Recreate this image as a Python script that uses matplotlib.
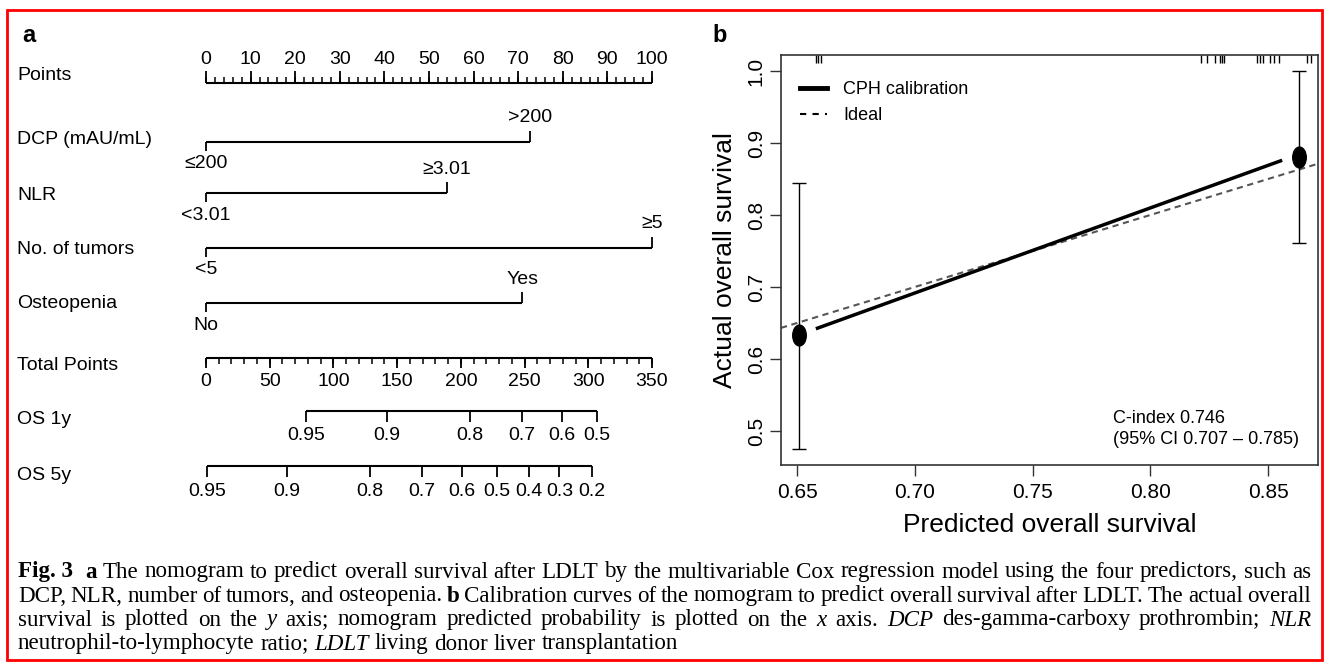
import matplotlib
matplotlib.use("Agg")
import matplotlib.pyplot as plt
import numpy as np
from matplotlib.path import Path
from matplotlib.transforms import Affine2D
from matplotlib.patches import Rectangle
from matplotlib.lines import Line2D

W, H = 1326, 667
DPI = 100
SANS = ["Liberation Sans", "DejaVu Sans"]
SERIF = ["Liberation Serif", "DejaVu Serif"]
plt.rcParams["font.family"] = SANS

# nomogram values (points scale 0-100, total points 0-350)
point_ticks = np.arange(0, 101, 10)
predictors = ["DCP (mAU/mL)", "NLR", "No. of tumors", "Osteopenia"]
pred_low = ["≤200", "<3.01", "<5", "No"]
pred_high = [">200", "≥3.01", "≥5", "Yes"]
pred_points = [72.7, 54.0, 100.0, 70.9]
total_ticks = np.arange(0, 351, 50)
os1_labels = ["0.95", "0.9", "0.8", "0.7", "0.6", "0.5"]
os1_total = [78.5, 142, 207, 248, 279, 307]
os5_labels = ["0.95", "0.9", "0.8", "0.7", "0.6", "0.5", "0.4", "0.3", "0.2"]
os5_total = [1, 63.7, 128.5, 169.7, 200.6, 228.6, 253.7, 277.3, 302.8]

# calibration values
cal_pred = [0.651, 0.863]
cal_obs = [0.633, 0.880]
cal_lo = [0.475, 0.761]
cal_hi = [0.845, 1.000]
cph_x = [0.658, 0.856]
cph_y = [0.642, 0.876]
rug_x = [0.6581, 0.6589, 0.6602, 0.8215, 0.8241, 0.8275, 0.8296, 0.8305, 0.8313,
         0.8453, 0.8466, 0.8479, 0.8508, 0.8525, 0.8547, 0.8665, 0.8682]
c_index_text = "C-index 0.746\n(95% CI 0.707 \u2013 0.785)"

caption = [
    [("Fig. 3", "bold", "normal"), ("a", "bold", "normal"),
     "The nomogram to predict overall survival after LDLT by the multivariable Cox regression model using the four predictors, such as"],
    ["DCP, NLR, number of tumors, and osteopenia.", ("b", "bold", "normal"),
     "Calibration curves of the nomogram to predict overall survival after LDLT. The actual overall"],
    ["survival is plotted on the", ("y", "normal", "italic"),
     "axis; nomogram predicted probability is plotted on the", ("x", "normal", "italic"),
     "axis.", ("DCP", "normal", "italic"), "des-gamma-carboxy prothrombin;", ("NLR", "normal", "italic")],
    ["neutrophil-to-lymphocyte ratio;", ("LDLT", "normal", "italic"), "living donor liver transplantation"],
]

fig = plt.figure(figsize=(W / DPI, H / DPI), dpi=DPI)

# ---------------- panel a: nomogram ----------------
px0, px_per_pt = 206, 4.46
ax = fig.add_axes([0, 0, 680 / W, 1])
ax.set_xlim(-px0 / px_per_pt, (680 - px0) / px_per_pt)
ax.set_ylim(H, 0)
ax.axis("off")
lab_tr = ax.get_yaxis_transform()
lw = 1.5
fs = 14

row_y = [83, 142, 193, 248, 303, 358, 411, 466]
label_y = [76, 140, 195, 250, 303, 365, 420, 475]
row_names = ["Points"] + predictors + ["Total Points", "OS 1y", "OS 5y"]
for name, ly in zip(row_names, label_y):
    ax.text(17 / 680, ly, name, transform=lab_tr, fontsize=fs, va="center", ha="left")

# points axis
y = row_y[0]
ax.plot([0, 100], [y, y], color="k", lw=lw, solid_capstyle="butt")
minor = np.arange(0, 101, 2)
ax.vlines(minor, y - 6, y, color="k", lw=1.1)
ax.vlines(point_ticks, y - 12, y, color="k", lw=1.3)
for v in point_ticks:
    ax.text(v, y - 23, str(v), fontsize=fs, ha="center", va="center")

# predictors
for i in range(len(predictors)):
    y = row_y[i + 1]
    p = pred_points[i]
    ax.plot([0, p], [y, y], color="k", lw=lw, solid_capstyle="butt")
    ax.vlines(0, y, y + 9, color="k", lw=1.3)
    ax.vlines(p, y - 11, y, color="k", lw=1.3)
    ax.text(0, y + 22, pred_low[i], fontsize=fs, ha="center", va="center")
    ax.text(p, y - 24, pred_high[i], fontsize=fs, ha="center", va="center")

# total points
scale = 100 / 350
y = row_y[5]
ax.plot([0, 350 * scale], [y, y], color="k", lw=lw, solid_capstyle="butt")
ax.vlines(np.arange(0, 351, 10) * scale, y, y + 6, color="k", lw=1.1)
ax.vlines(total_ticks * scale, y, y + 10, color="k", lw=1.3)
for v in total_ticks:
    ax.text(v * scale, y + 24, str(v), fontsize=fs, ha="center", va="center")

# survival axes
for y, tot, labs in [(row_y[6], os1_total, os1_labels), (row_y[7], os5_total, os5_labels)]:
    xs = np.array(tot) * scale
    ax.plot([xs[0], xs[-1]], [y, y], color="k", lw=lw, solid_capstyle="butt")
    ax.vlines(xs, y, y + 11, color="k", lw=1.3)
    for xv, lab in zip(xs, labs):
        ax.text(xv, y + 25, lab, fontsize=fs, ha="center", va="center")

# ---------------- panel b: calibration ----------------
left, right, top, bottom = 781, 1318, 55, 465
bx = fig.add_axes([left / W, (H - bottom) / H, (right - left) / W, (bottom - top) / H])
bx.set_xlim(0.6432, 0.8712)
bx.set_ylim(0.4528, 1.0222)

bx.axline((0.65, 0.65), (0.85, 0.85), color="#555555", lw=1.5, ls=(0, (3, 2.2)))
bx.plot(cph_x, cph_y, color="k", lw=2.5, solid_capstyle="butt")
bx.errorbar(cal_pred, cal_obs, yerr=[np.subtract(cal_obs, cal_lo), np.subtract(cal_hi, cal_obs)],
            fmt="none", ecolor="k", elinewidth=1.0, capsize=5, capthick=1.0)
ell = Path.unit_circle().transformed(Affine2D().scale(0.65, 1.0))
bx.plot(cal_pred, cal_obs, ls="none", marker=ell, ms=15, color="k")
bx.vlines(rug_x, 0.98, 1.0, transform=bx.get_xaxis_transform(), color="k", lw=1.0)

bx.set_xticks([0.65, 0.70, 0.75, 0.80, 0.85], ["0.65", "0.70", "0.75", "0.80", "0.85"])
bx.set_yticks([0.5, 0.6, 0.7, 0.8, 0.9, 1.0], ["0.5", "0.6", "0.7", "0.8", "0.9", "1.0"])
bx.tick_params(direction="out", length=8, width=1.0, color="#333333", labelsize=15, pad=5)
bx.tick_params(axis="y", pad=3)
for t in bx.get_yticklabels():
    t.set_rotation(90)
    t.set_va("center")
for s in bx.spines.values():
    s.set_color("#333333")
    s.set_linewidth(1.2)

bx.set_xlabel("Predicted overall survival", fontsize=19)
bx.set_ylabel("Actual overall survival", fontsize=19)
bx.xaxis.set_label_coords(0.5, -0.116)
bx.yaxis.set_label_coords(-0.082, 0.5)

handles = [Line2D([], [], color="k", lw=3.5), Line2D([], [], color="k", lw=1.5, ls=(0, (3, 3)))]
bx.legend(handles, ["CPH calibration", "Ideal"], loc="upper left", bbox_to_anchor=(0.035, 0.937),
          frameon=False, fontsize=13, handlelength=1.5, handletextpad=0.9, borderpad=0,
          borderaxespad=0, labelspacing=0.5)
bx.text(0.784, 0.529, c_index_text, fontsize=13, ha="left", va="top", linespacing=1.3)

# panel letters
fig.text(22 / W, 1 - 35 / H, "a", fontsize=17, weight="bold", ha="left", va="center")
fig.text(712 / W, 1 - 35 / H, "b", fontsize=17, weight="bold", ha="left", va="center")

# ---------------- caption ----------------
renderer = fig.canvas.get_renderer()
x0, x1 = 18, 1311
cap_y = [572, 596, 620, 644]


def tokens_of(line):
    out = []
    for item in line:
        if isinstance(item, tuple):
            out.append(item)
        else:
            out.extend((w, "normal", "normal") for w in item.split())
    return out


def text_width(s, size):
    t = fig.text(0, 0, s, fontsize=size, family=SERIF)
    w = t.get_window_extent(renderer).width
    t.remove()
    return w


# pick a size so the unjustified last line spans like the original
cap_size = 12 * 662 / text_width("neutrophil-to-lymphocyte ratio; LDLT living donor liver transplantation", 12)
sw = text_width("a a", cap_size) - text_width("aa", cap_size)

for i, line in enumerate(caption):
    texts = [fig.text(0, 0, w, fontsize=cap_size, family=SERIF, weight=wt, style=st,
                      va="center", ha="left") for w, wt, st in tokens_of(line)]
    widths = [t.get_window_extent(renderer).width for t in texts]
    gaps = [sw] * (len(texts) - 1)
    if i < len(caption) - 1:
        # justify: stretch the gaps, with an extra space after "Fig. 3"
        extra = [sw if (i == 0 and j == 0) else 0 for j in range(len(gaps))]
        free = x1 - x0 - sum(widths) - sum(extra)
        gaps = [free / len(gaps) + e for e in extra]
    xpos = x0
    for j, (t, w) in enumerate(zip(texts, widths)):
        t.set_position((xpos / W, 1 - cap_y[i] / H))
        if j < len(gaps):
            xpos += w + gaps[j]

fig.patches.append(Rectangle((7 / W, (H - 660) / H), 1315 / W, 650 / H, transform=fig.transFigure,
                             fill=False, edgecolor="red", lw=2))

fig.savefig("out.png", dpi=DPI)
